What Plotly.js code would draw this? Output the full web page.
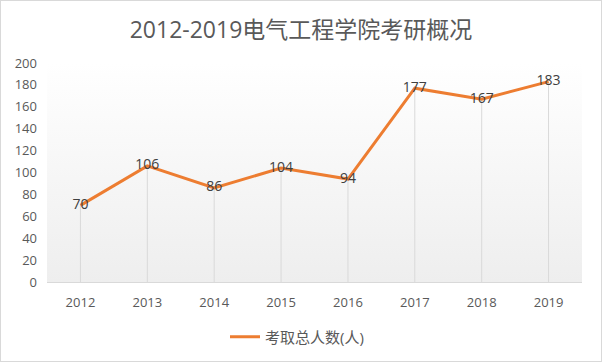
<!DOCTYPE html>
<html>
<head>
<meta charset="utf-8">
<script src="https://cdn.plot.ly/plotly-3.0.1.min.js"></script>
<style>
  html, body { margin: 0; padding: 0; background: #fff; }
  #wrap { position: relative; width: 600px; height: 360px; border: 1px solid #d9d9d9; }
  #bg { position: absolute; background: linear-gradient(to bottom, #ffffff 0%, #eeeeee 100%); z-index: 0; }
  #chart { position: absolute; left: 0; top: 0; width: 600px; height: 360px; z-index: 1; }
</style>
</head>
<body>
<div id="wrap"><div id="bg"></div><div id="chart"></div></div>
<script>
const years = ['2012', '2013', '2014', '2015', '2016', '2017', '2018', '2019'];
const totals = [70, 106, 86, 104, 94, 177, 167, 183];
const seriesName = '考取总人数(人)';
const chartTitle = '2012-2019电气工程学院考研概况';

const fontFam = '"Open Sans", "Noto Sans CJK SC", sans-serif';

const dropLines = {
  x: years, y: totals, type: 'scatter', mode: 'markers',
  marker: { size: 0.1, opacity: 0 },
  showlegend: false, hoverinfo: 'skip',
  error_y: { type: 'data', symmetric: false, array: totals.map(() => 0), arrayminus: totals, color: '#d9d9d9', thickness: 1, width: 0 }
};
const line = {
  x: years, y: totals, type: 'scatter', mode: 'lines+text',
  name: seriesName,
  line: { color: '#ED7D31', width: 3 },
  text: totals.map(String), textposition: 'middle center',
  textfont: { family: fontFam, size: 14, color: '#404040' },
  cliponaxis: false
};

const layout = {
  width: 600, height: 360,
  margin: { l: 46, r: 18.5, t: 62, b: 79 },
  paper_bgcolor: 'rgba(0,0,0,0)', plot_bgcolor: 'rgba(0,0,0,0)',
  title: { text: chartTitle, x: 0.5, xanchor: 'center', xref: 'container', y: 1 - 29/360, yanchor: 'middle', yref: 'container',
           font: { family: fontFam, size: 23, color: '#595959' } },
  xaxis: { type: 'category', range: [-0.5, 7.5], showgrid: false, zeroline: false,
           showline: true, linecolor: '#d9d9d9', linewidth: 1, ticks: '',
           tickfont: { family: fontFam, size: 13, color: '#595959' }, ticklabelstandoff: 8 },
  yaxis: { range: [0, 200], dtick: 20, showgrid: false, zeroline: false, showline: false, ticks: '',
           tickfont: { family: fontFam, size: 13, color: '#595959' }, ticklabelstandoff: 9 },
  showlegend: true,
  legend: { orientation: 'h', xref: 'container', x: 224/600, xanchor: 'left', yref: 'container', y: 1 - 336/360, yanchor: 'middle',
            font: { family: fontFam, size: 15, color: '#595959' }, bgcolor: 'rgba(0,0,0,0)' }
};

Plotly.newPlot('chart', [dropLines, line], layout, { displayModeBar: false, staticPlot: true }).then(function (gd) {
  const s = gd._fullLayout._size;
  const bg = document.getElementById('bg');
  bg.style.left = s.l + 'px';
  bg.style.top = s.t + 'px';
  bg.style.width = s.w + 'px';
  bg.style.height = s.h + 'px';
});
</script>
</body>
</html>
